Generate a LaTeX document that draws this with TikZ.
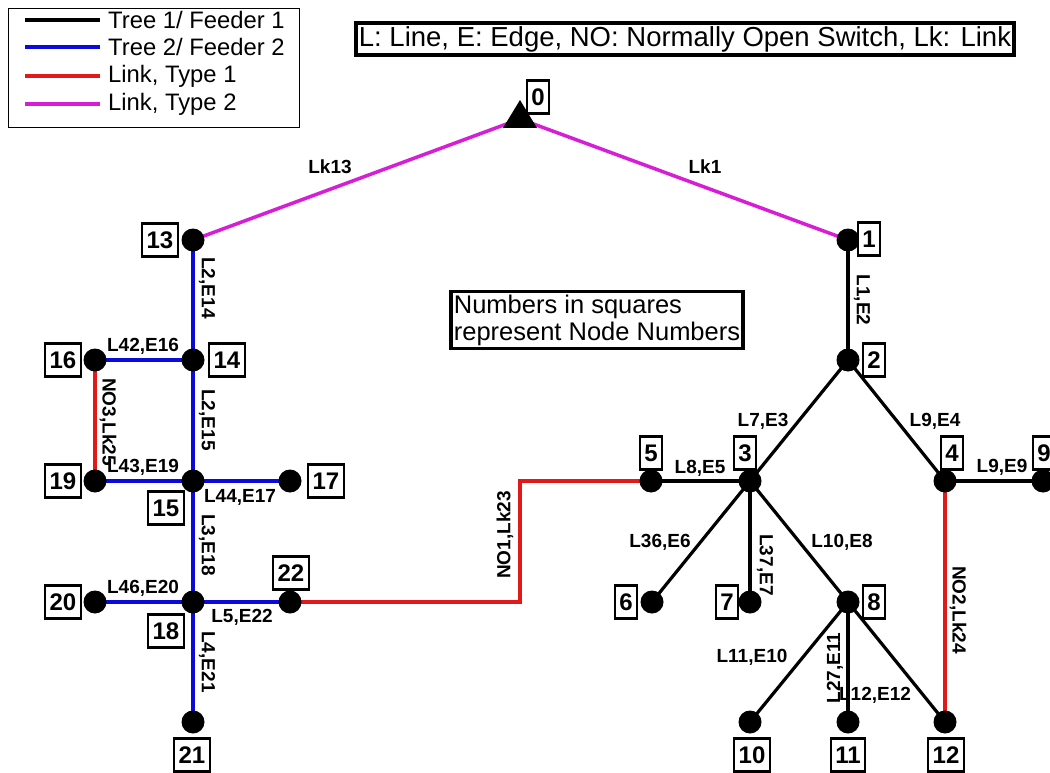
\documentclass[tikz,border=0pt]{standalone}
\usepackage{fontspec}
\setmainfont{Liberation Sans}
\definecolor{treeblue}{RGB}{10,10,220}
\definecolor{linkred}{RGB}{225,25,25}
\definecolor{linkmag}{RGB}{215,30,215}
\tikzset{
  dot/.style={circle,fill=black,minimum size=22,inner sep=0},
  numbox/.style={draw,line width=2.4,fill=white,font=\bfseries\fontsize{24}{24}\selectfont,minimum height=33,inner xsep=4.5,inner ysep=0},
  elabel/.style={font=\bfseries\fontsize{19}{19}\selectfont,inner sep=1},
  feed1/.style={black,line width=3.2},
  feed2/.style={treeblue,line width=3.5},
  lnk1/.style={linkred,line width=3.5},
  lnk2/.style={linkmag,line width=3.5},
  infobox/.style={draw,line width=3.5,fill=white,inner sep=3,align=left}
}
\begin{document}
\begin{tikzpicture}[x=1pt,y=-1pt]
\useasboundingbox (0,0) rectangle (1050,773);
\fill[white] (0,0) rectangle (1050,773);

% legend
\node[draw,line width=1.2,minimum width=291,minimum height=119,anchor=north west,inner sep=0] (legend) at (8,8) {};
\foreach \yy/\st/\tx [count=\i] in {20/feed1/{Tree 1/ Feeder 1},47/feed2/{Tree 2/ Feeder 2},76/lnk1/{Link, Type 1},104/lnk2/{Link, Type 2}}{
  \coordinate (la\i) at (25,\yy);
  \coordinate (lb\i) at (100,\yy);
  \draw[\st] (la\i) -- (lb\i);
  \node[anchor=west,font=\fontsize{23.8}{25}\selectfont,inner sep=0] (lt\i) at (108,\yy) {\tx};
}

% info boxes
\node[infobox,font=\fontsize{27.5}{28}\selectfont] (info) at (685,39) {L: Line, E: Edge, NO: Normally Open Switch, Lk: Link};
\node[infobox,font=\fontsize{25.5}{27}\selectfont] (numinfo) at (597,320) {Numbers in squares\\represent Node Numbers};

% node positions (dots)
\coordinate (n0) at (520,119);
\node[dot] (n13) at (193,240) {};
\node[dot] (n1) at (848,240) {};
\node[dot] (n2) at (848,360) {};
\node[dot] (n14) at (193,360) {};
\node[dot] (n16) at (95,360) {};
\node[dot] (n19) at (95,481) {};
\node[dot] (n15) at (193,481) {};
\node[dot] (n17) at (290,481) {};
\node[dot] (n18) at (193,602) {};
\node[dot] (n20) at (95,602) {};
\node[dot] (n22) at (290,602) {};
\node[dot] (n21) at (193,722) {};
\node[dot] (n5) at (651,481) {};
\node[dot] (n3) at (750,481) {};
\node[dot] (n4) at (945,481) {};
\node[dot] (n9) at (1043,481) {};
\node[dot] (n6) at (652,602) {};
\node[dot] (n7) at (750,602) {};
\node[dot] (n8) at (848,602) {};
\node[dot] (n10) at (750,722) {};
\node[dot] (n11) at (848,722) {};
\node[dot] (n12) at (945,722) {};
\coordinate (c1) at (520,602);
\coordinate (c2) at (520,481);

% edges
\draw[lnk2] (n0) -- (n13.center);
\draw[lnk2] (n0) -- (n1.center);
\draw[feed2] (n13.center) -- (n14.center) -- (n15.center) -- (n18.center) -- (n21.center);
\draw[feed2] (n16.center) -- (n14.center);
\draw[feed2] (n19.center) -- (n15.center) -- (n17.center);
\draw[feed2] (n20.center) -- (n18.center) -- (n22.center);
\draw[lnk1] (n16.center) -- (n19.center);
\draw[lnk1] (n22.center) -- (c1) -- (c2) -- (n5.center);
\draw[lnk1] (n4.center) -- (n12.center);
\draw[feed1] (n1.center) -- (n2.center);
\draw[feed1] (n2.center) -- (n3.center);
\draw[feed1] (n2.center) -- (n4.center);
\draw[feed1] (n5.center) -- (n3.center);
\draw[feed1] (n4.center) -- (n9.center);
\draw[feed1] (n3.center) -- (n6.center);
\draw[feed1] (n3.center) -- (n7.center);
\draw[feed1] (n3.center) -- (n8.center);
\draw[feed1] (n8.center) -- (n10.center);
\draw[feed1] (n8.center) -- (n11.center);
\draw[feed1] (n8.center) -- (n12.center);

% redraw dots on top
\foreach \n in {n13,n1,n2,n14,n16,n19,n15,n17,n18,n20,n22,n21,n5,n3,n4,n9,n6,n7,n8,n10,n11,n12}
  \fill (\n.center) circle (11.5);

% source triangle
\fill (520,100) -- (537,128) -- (503,128) -- cycle;

% node number boxes
\node[numbox] (b0) at (538,97) {0};
\node[numbox] (b13) at (160,240) {13};
\node[numbox] (b1) at (869,239) {1};
\node[numbox] (b2) at (874,360) {2};
\node[numbox] (b14) at (227,360) {14};
\node[numbox] (b16) at (63,360) {16};
\node[numbox] (b19) at (63,481) {19};
\node[numbox] (b15) at (166,508) {15};
\node[numbox] (b17) at (326,481) {17};
\node[numbox] (b18) at (166,631) {18};
\node[numbox] (b20) at (63,602) {20};
\node[numbox] (b22) at (291,573) {22};
\node[numbox] (b21) at (192,755) {21};
\node[numbox] (b5) at (651,453) {5};
\node[numbox] (b3) at (745,453) {3};
\node[numbox] (b4) at (952,453) {4};
\node[numbox] (b9) at (1044,453) {9};
\node[numbox] (b6) at (626,602) {6};
\node[numbox] (b7) at (727,602) {7};
\node[numbox] (b8) at (874,602) {8};
\node[numbox] (b10) at (752,755) {10};
\node[numbox] (b11) at (848,755) {11};
\node[numbox] (b12) at (946,755) {12};

% edge labels
\node[elabel] (e1) at (330,167) {Lk13};
\node[elabel] (e2) at (705,167) {Lk1};
\node[elabel,rotate=-90] (e3) at (207,288) {L2,E14};
\node[elabel] (e4) at (143,346) {L42,E16};
\node[elabel,rotate=-90] (e5) at (207,420) {L2,E15};
\node[elabel,rotate=-90] (e6) at (108,422) {NO3,Lk25};
\node[elabel] (e7) at (143,467) {L43,E19};
\node[elabel] (e8) at (240,497) {L44,E17};
\node[elabel,rotate=-90] (e9) at (207,545) {L3,E18};
\node[elabel] (e10) at (143,588) {L46,E20};
\node[elabel] (e11) at (242,617) {L5,E22};
\node[elabel,rotate=-90] (e12) at (207,662) {L4,E21};
\node[elabel,rotate=90] (e13) at (505,535) {NO1,Lk23};
\node[elabel,rotate=-90] (e14) at (862,300) {L1,E2};
\node[elabel] (e15) at (763,421) {L7,E3};
\node[elabel] (e16) at (935,421) {L9,E4};
\node[elabel] (e17) at (700,468) {L8,E5};
\node[elabel] (e18) at (1002,467) {L9,E9};
\node[elabel] (e19) at (660,542) {L36,E6};
\node[elabel,rotate=-90] (e20) at (765,565) {L37,E7};
\node[elabel] (e21) at (842,542) {L10,E8};
\node[elabel,rotate=-90] (e22) at (958,610) {NO2,Lk24};
\node[elabel] (e23) at (752,657) {L11,E10};
\node[elabel,rotate=90] (e24) at (835,668) {L27,E11};
\node[elabel] (e25) at (875,695) {L12,E12};
\end{tikzpicture}
\end{document}
